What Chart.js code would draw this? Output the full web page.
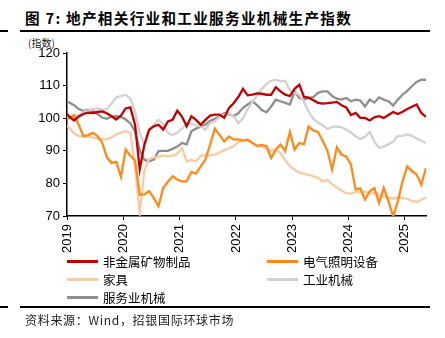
<!DOCTYPE html>
<html>
<head>
<meta charset="utf-8">
<script src="https://cdn.jsdelivr.net/npm/chart.js@4"></script>
<style>
    body { margin: 0; background: #fff; }
    #page { position: relative; width: 445px; height: 338px; overflow: hidden; font-family: "Noto Sans CJK SC", "Liberation Sans", sans-serif; color: #000; }
    #title { position: absolute; left: 25px; top: 7px; font-size: 14.6px; font-weight: bold; letter-spacing: 1.3px; white-space: nowrap; }
    .rule { position: absolute; background: #000; }
    #unit { position: absolute; left: 28px; top: 35px; font-size: 10px; color: #222; }
    #chartBox { position: absolute; left: 0; top: 36px; width: 445px; height: 220px; }
    #legend { position: absolute; left: 67px; top: 252px; display: grid; grid-template-columns: 200px 170px; grid-auto-rows: 18px; font-size: 12.5px; }
    #legend div { display: flex; align-items: center; white-space: nowrap; }
    #legend span.swatch { display: inline-block; width: 31px; height: 3px; margin-right: 5px; }
    #source { position: absolute; left: 25px; top: 311px; font-size: 12px; letter-spacing: 0.7px; color: #222; white-space: nowrap; }
</style>
</head>
<body>
<div id="page">
    <div id="title">图 7: 地产相关行业和工业服务业机械生产指数</div>
    <div class="rule" style="left:0;top:30px;width:8px;height:2px"></div>
    <div class="rule" style="left:20px;top:30px;width:410px;height:2px"></div>
    <div id="unit">(指数)</div>
    <div id="chartBox"><canvas id="ipChart" width="445" height="220"></canvas></div>
    <div id="legend"></div>
    <div class="rule" style="left:0;top:306px;width:8px;height:2px"></div>
    <div class="rule" style="left:20px;top:306px;width:410px;height:2px"></div>
    <div id="source">资料来源：Wind，招银国际环球市场</div>
</div>

<script>
//Production index chart

const theme = {
    red: "#C00000",
    orange: "#FF8A1C",
    peach: "#F9CBA4",
    lightGray: "#D2D2D2",
    darkGray: "#8E8E8E",
    axis: "#000"
};

// monthly index, Jan 2019 (0) .. Jun 2025 (77)
const years = [2019, 2020, 2021, 2022, 2023, 2024, 2025];
const yTicks = [70, 80, 90, 100, 110, 120];

const seriesNames = ["非金属矿物制品", "电气照明设备", "家具", "工业机械", "服务业机械"];

const nonMetal = [
    102, 100.5, 99.3, 100.5, 101.3, 101.7, 101.6, 101.9, 102.1, 101.5, 100.6, 99.6,
    100.8, 103, 103.3, 98, 84.3, 91.9, 96.5, 97.5, 98, 96.5, 99, 99.5,
    102.3, 100.5, 97.5, 100.6, 99.5, 98, 99.5, 100.8, 101.1, 101.1, 100.1, 103.1,
    104.6, 106.5, 109, 107, 107.2, 107.6, 107.5, 107.2, 107.2, 109.5, 108.2, 107.2,
    106.8, 109, 110.3, 106.5, 106.3, 105.5, 104.7, 104.5, 104.6, 104.8, 105, 104,
    103.3, 101, 101.6, 100.1, 100.1, 99.3, 100.3, 100.6, 100.1, 101, 101.9, 101.3,
    102, 102.8, 103.5, 104.2, 101.6, 100.4
];

const lighting = [
    99.6, 100, 101, 98, 94.5, 94.8, 95.5, 94.5, 92.5, 88, 86.3, 86.6,
    82, 90.4, 88.5, 87, 76.5, 76.6, 77.6, 75.5, 73, 78.6, 80.5, 82.2,
    81.2, 80.6, 80.6, 83.5, 83, 85.2, 87.3, 91.9, 96.8, 94.9, 92.9, 94.4,
    93.5, 93.5, 93.2, 93.4, 92.4, 91.5, 91.8, 91.4, 87.8, 90.4, 91.9, 89.9,
    95.8, 90.4, 92.4, 92, 97.5, 96.2, 95.8, 93, 90, 84.2, 91.1, 88.8,
    88.3, 85.8, 78.1, 78.5, 75, 77.6, 78.6, 74, 78.6, 74.5, 69.9, 74.5,
    80.6, 85.2, 83.8, 82.7, 79.6, 84.7
];

const furniture = [
    98.2, 97, 95.3, 94.5, 94.4, 94.3, 94.1, 93.8, 93.5, 93.6, 94.1, 95,
    95.6, 96, 95.5, 85, 71, 84, 87.5, 88, 88.2, 88.6, 88.3, 88.5,
    89, 90.9, 86.8, 87.2, 86.8, 88.5, 88.7, 88.6, 88.8, 89.5, 90.2, 90.8,
    91.4, 92.7, 93, 93.2, 92.5, 91.6, 91.2, 90.8, 90, 90.3, 89.4, 87,
    85.3, 84.2, 83.3, 83, 82.6, 82.2, 81.7, 80.6, 81.1, 79.7, 78.7, 77.8,
    77, 76.8, 77.5, 77.2, 77.5, 76.8, 77.1, 76.5, 75.9, 75.6, 75.3, 75.7,
    75.5, 75.3, 74.6, 74.3, 75, 75.7
];

const industrialMachinery = [
    100.5, 100, 100.5, 101, 101.8, 102.3, 102.8, 103, 102.6, 102.8, 104.5, 106.4,
    106.8, 107.2, 106, 102, 95.5, 91.9, 96, 98, 99.5, 98, 95.5, 94.8,
    95.5, 96.8, 98, 98.3, 97.8, 97.5, 96.5, 98.5, 99, 100.3, 101.1, 101.6,
    100.6, 98.5, 100, 102.8, 105, 107, 109, 110.5, 111.5, 111.8, 111.3, 111.5,
    108.5, 107.8, 107.2, 105, 102, 99.8, 98.7, 97.8, 96.7, 97.3, 97.5, 97.2,
    96.5, 95.6, 94.5, 93.6, 94.3, 95.8, 92.9, 90.9, 91.3, 92, 92.8, 94.6,
    94.6, 95, 94.6, 93.8, 93, 92.4
];

const serviceMachinery = [
    105.2, 104.8, 104, 102.8, 102.2, 102.6, 102.2, 101.3, 100.2, 99.8, 100.5, 100.6,
    100.4, 99.6, 98.4, 96, 90, 87.2, 86.8, 87.3, 89.9, 90, 90, 90.6,
    91.3, 92.4, 92, 96, 96.8, 97.5, 98, 99.2, 99.7, 100.7, 101.5, 101.2,
    100.7, 101.5, 103.2, 104.2, 105.2, 104, 102.5, 101.8, 103.6, 105.7, 105.2, 104.7,
    104.2, 108.2, 106.2, 105.7, 106.2, 106.5, 107.8, 108.2, 108.2, 106.8, 106, 105.7,
    106.2, 105.2, 105.7, 105.4, 103.6, 105.7, 104.8, 106.4, 105.7, 105.2, 103.9, 105.7,
    107.2, 108.4, 109.8, 111.1, 111.8, 111.8
];

const seriesValues = [nonMetal, lighting, furniture, industrialMachinery, serviceMachinery];
const seriesColors = [theme.red, theme.orange, theme.peach, theme.lightGray, theme.darkGray];

const datasets = seriesNames.map((name, i) => ({
    label: name,
    data: seriesValues[i].map((v, m) => ({ x: m, y: v })),
    borderColor: seriesColors[i],
    backgroundColor: seriesColors[i],
    borderWidth: 2.3,
    pointRadius: 0,
    tension: 0,
    fill: false
}));

// legend, two columns like the report
const legendBox = document.getElementById("legend");
seriesNames.forEach((name, i) => {
    const item = document.createElement("div");
    item.innerHTML = `<span class="swatch" style="background:${seriesColors[i]}"></span>${name}`;
    legendBox.appendChild(item);
});

const ctx = document.getElementById("ipChart");

// year ticks sit between Dec and Jan
const yearPos = years.map((y, k) => 0.5 + 12 * k);

new Chart(ctx, {
    type: "line",
    data: { datasets: datasets },
    options: {
        responsive: false,
        animation: false,
        devicePixelRatio: 1,
        layout: { padding: { top: 17, right: 19, left: 0, bottom: 0 } },
        plugins: {
            legend: { display: false },
            tooltip: { enabled: false }
        },
        scales: {
            x: {
                type: "linear",
                min: 0.5,
                max: 77,
                afterFit: s => { s.height = 40; },
                afterBuildTicks: s => { s.ticks = yearPos.map(v => ({ value: v })); },
                grid: { drawOnChartArea: false, drawTicks: true, tickLength: 4, color: theme.axis, lineWidth: 1 },
                border: { color: theme.axis, width: 1.5 },
                ticks: {
                    minRotation: 90,
                    maxRotation: 90,
                    padding: 4,
                    color: "#000",
                    font: { family: "Liberation Sans", size: 13 },
                    callback: v => String(years[Math.round((v - 0.5) / 12)])
                }
            },
            y: {
                min: 70,
                max: 120,
                afterFit: s => { s.width = 67; },
                afterBuildTicks: s => { s.ticks = yTicks.map(v => ({ value: v })); },
                grid: { drawOnChartArea: false, drawTicks: true, tickLength: 4, color: theme.axis, lineWidth: 1 },
                border: { color: theme.axis, width: 1.5 },
                ticks: {
                    padding: 3,
                    color: "#000",
                    font: { family: "Liberation Sans", size: 13 }
                }
            }
        }
    }
});
</script>
</body>
</html>
